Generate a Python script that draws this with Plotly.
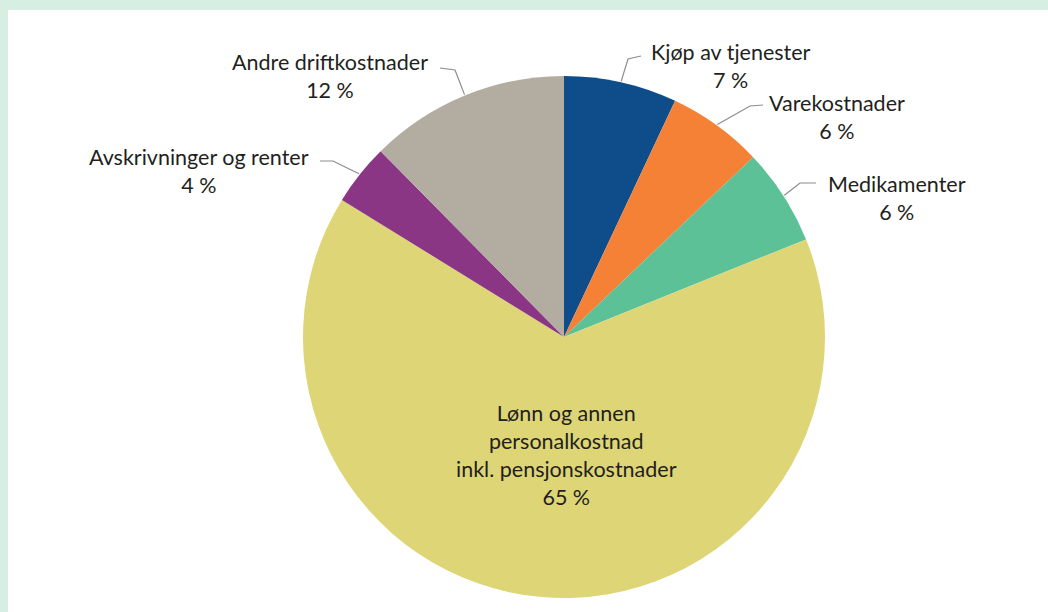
import math
import plotly.graph_objects as go

# ---- data ----
categories = [
    "Kjøp av tjenester",
    "Varekostnader",
    "Medikamenter",
    "Lønn og annen<br>personalkostnad<br>inkl. pensjonskostnader",
    "Avskrivninger og renter",
    "Andre driftkostnader",
]
shares = [7.0, 5.9, 6.0, 64.9, 3.8, 12.4]
colors = ["#0f4c8a", "#f48135", "#5cc196", "#ded576", "#8a3684", "#b3aca0"]

# ---- layout geometry (pixels) ----
W, H = 1048, 612
CX, CY, R = 564, 337, 261

def px(x):
    return x / W

def py(y):
    return 1 - y / H

# label positions (block centre), elbow, line end, in pixels
label_pos = [(731, 66), (837, 117), (897, 198), (566, 455), (199, 171), (330, 76)]
elbows = [(628, 59), (750, 106), (800, 183), None, (333, 161), (455, 70)]
ends = [(641, 56), (763, 105), (816, 183), None, (320, 161), (440, 68)]

fig = go.Figure(
    go.Pie(
        labels=categories,
        values=shares,
        sort=False,
        direction="clockwise",
        rotation=0,
        marker=dict(colors=colors, line=dict(width=0)),
        textinfo="none",
        hoverinfo="label+percent",
        showlegend=False,
        domain=dict(x=[px(CX - R), px(CX + R)], y=[py(CY + R), py(CY - R)]),
    )
)

shapes = [
    # green frame strips
    dict(type="rect", xref="paper", yref="paper", x0=0, x1=1, y0=py(10), y1=1,
         fillcolor="#d7eee2", line=dict(width=0), layer="below"),
    dict(type="rect", xref="paper", yref="paper", x0=0, x1=px(8), y0=0, y1=1,
         fillcolor="#d7eee2", line=dict(width=0), layer="below"),
]

annotations = []
total = sum(shares)
cum = 0.0
for i, (name, v) in enumerate(zip(categories, shares)):
    mid = (cum + v / 2) / total * 2 * math.pi
    cum += v
    text = f"{name}<br>{round(v / total * 100)} %"
    lx, ly = label_pos[i]
    annotations.append(dict(
        x=px(lx), y=py(ly), xref="paper", yref="paper", text=text,
        showarrow=False, xanchor="center", yanchor="middle", align="center",
        font=dict(family="Lato, 'Open Sans', sans-serif", size=21.5, color="#231f20"),
    ))
    if elbows[i] is not None:
        sx = CX + (R + 1) * math.sin(mid)
        sy = CY - (R + 1) * math.cos(mid)
        ex, ey = elbows[i]
        tx, ty = ends[i]
        path = f"M {px(sx)} {py(sy)} L {px(ex)} {py(ey)} L {px(tx)} {py(ty)}"
        shapes.append(dict(type="path", xref="paper", yref="paper", path=path,
                           line=dict(color="#8c8c8c", width=1.2)))

fig.update_layout(
    width=W, height=H,
    margin=dict(l=0, r=0, t=0, b=0),
    paper_bgcolor="white",
    plot_bgcolor="white",
    shapes=shapes,
    annotations=annotations,
)

fig.write_html(
    "out.html",
    config={"displayModeBar": False},
    post_script="document.body.style.margin='0';document.body.style.overflow='hidden';",
)
